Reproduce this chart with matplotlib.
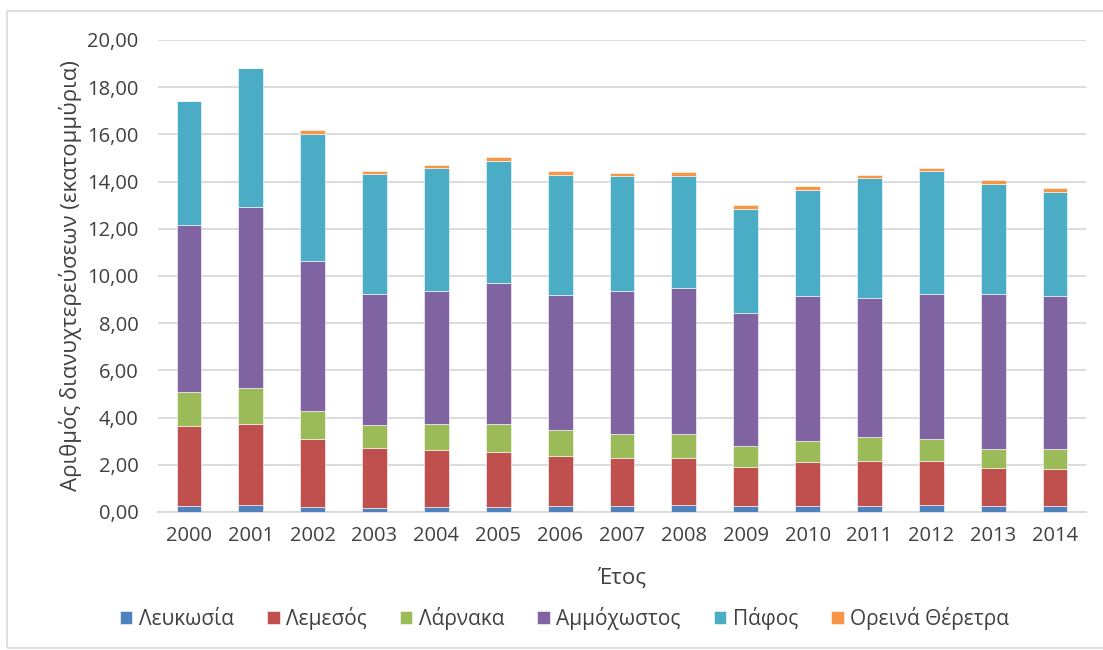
import numpy as np
import matplotlib.pyplot as plt
from matplotlib.patches import Rectangle
from matplotlib.ticker import FuncFormatter

plt.rcParams['font.family'] = ['Open Sans', 'DejaVu Sans']

years = [str(y) for y in range(2000, 2015)]

# overnight stays per district (millions)
lefkosia = [0.24, 0.28, 0.22, 0.18, 0.22, 0.21, 0.24, 0.27, 0.30, 0.25, 0.25, 0.27, 0.31, 0.25, 0.27]
lemesos  = [3.39, 3.45, 2.86, 2.52, 2.41, 2.33, 2.13, 2.00, 1.97, 1.66, 1.87, 1.90, 1.85, 1.60, 1.55]
larnaka  = [1.47, 1.54, 1.21, 1.00, 1.12, 1.20, 1.12, 1.05, 1.05, 0.90, 0.90, 1.02, 0.95, 0.83, 0.86]
ammoch   = [7.04, 7.67, 6.36, 5.55, 5.61, 5.96, 5.69, 6.04, 6.17, 5.61, 6.12, 5.88, 6.13, 6.54, 6.46]
pafos    = [5.27, 5.88, 5.35, 5.06, 5.20, 5.18, 5.10, 4.86, 4.75, 4.42, 4.50, 5.07, 5.19, 4.68, 4.42]
oreina   = [0.00, 0.00, 0.17, 0.16, 0.16, 0.18, 0.15, 0.16, 0.15, 0.17, 0.16, 0.15, 0.16, 0.15, 0.15]

series = [
    ("Λευκωσία", lefkosia, "#4F81BD"),
    ("Λεμεσός", lemesos, "#C0504D"),
    ("Λάρνακα", larnaka, "#9BBB59"),
    ("Αμμόχωστος", ammoch, "#8064A2"),
    ("Πάφος", pafos, "#4BACC6"),
    ("Ορεινά Θέρετρα", oreina, "#F79646"),
]

fig = plt.figure(figsize=(11.03, 6.5), dpi=100)
ax = fig.add_axes([158 / 1103, 1 - 512 / 650, 928 / 1103, 472 / 650])

# outer chart border
fig.patches.append(Rectangle((7 / 1103, 2 / 650), 1.2, 1 - 13 / 650, transform=fig.transFigure,
                             fill=False, edgecolor="#D9D9D9", linewidth=1.2))

x = np.arange(len(years))
bottom = np.zeros(len(years))
for name, vals, col in series:
    ax.bar(x, vals, width=0.4, bottom=bottom, color=col, label=name,
           edgecolor="white", linewidth=0.4, zorder=3)
    bottom += np.array(vals)

ax.set_xlim(-0.5, len(years) - 0.5)
ax.set_ylim(0, 20)
ax.set_yticks(np.arange(0, 21, 2))
ax.yaxis.set_major_formatter(FuncFormatter(lambda v, p: f"{v:.2f}".replace(".", ",")))
ax.set_xticks(x)
ax.set_xticklabels(years)
ax.grid(axis="y", color="#D9D9D9", linewidth=1.3, zorder=0)
for s in ["top", "right", "left"]:
    ax.spines[s].set_visible(False)
ax.spines["bottom"].set_color("#D9D9D9")
ax.spines["bottom"].set_linewidth(1.3)
ax.tick_params(axis="both", length=0, labelsize=14.5, colors="#404040", pad=10)
ax.tick_params(axis="y", pad=14)

ax.set_xlabel("Έτος", fontsize=16, color="#404040", labelpad=16)
ax.set_ylabel("Αριθμός διανυχτερεύσεων (εκατομμύρια)", fontsize=16, color="#404040", labelpad=4)

ax.legend(loc="center", bbox_to_anchor=(0.438, -0.225), ncol=6, frameon=False,
          fontsize=15, handlelength=0.6, handleheight=0.6, handletextpad=0.3,
          columnspacing=1.6, labelcolor="#404040")

fig.savefig("out.png", dpi=100)
